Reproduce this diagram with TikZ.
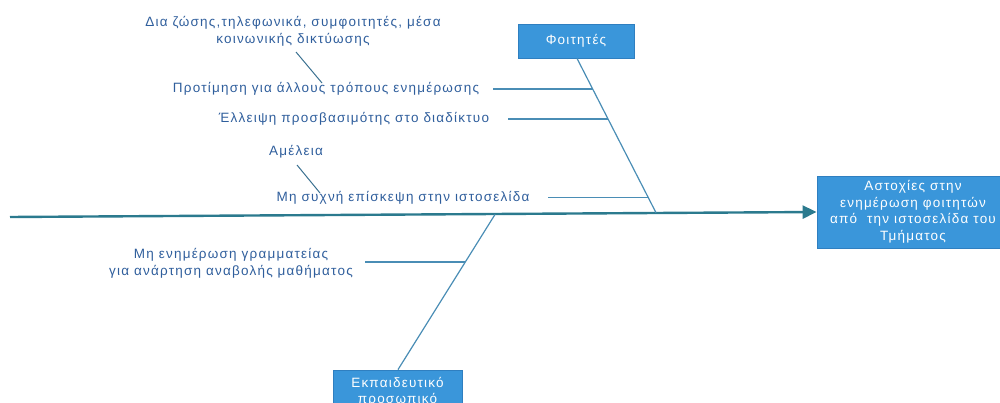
\documentclass[tikz,border=0pt]{standalone}
\usepackage{fontspec}
\setmainfont{Liberation Sans}
\newfontfamily\spacedsans[LetterSpace=9]{Liberation Sans}
\usetikzlibrary{arrows.meta}
\definecolor{boxblue}{HTML}{3A96DA}
\definecolor{boxedge}{HTML}{2F7FC0}
\definecolor{txtblue}{HTML}{2F5E9C}
\definecolor{bone}{HTML}{4A8DB5}
\definecolor{spine}{HTML}{2B7A8E}
\tikzset{
  lbl/.style={text=txtblue, font=\spacedsans\fontsize{13.5}{17}\selectfont, inner sep=0pt, align=center},
  catbox/.style={draw=boxedge, line width=0.8pt, fill=boxblue, text=white, font=\spacedsans\fontsize{13.5}{16.5}\selectfont, align=center, inner sep=0pt},
  bonel/.style={draw=bone, line width=1.2pt},
  subl/.style={draw=bone!80!black, line width=1pt},
  spinel/.style={draw=spine, line width=2.4pt, -{Triangle[length=14pt,width=13pt]}}
}
\begin{document}
\begin{tikzpicture}[x=1pt,y=-1pt]
\useasboundingbox (0,0) rectangle (1000,403);
% boxes
\node[catbox, minimum width=192pt, minimum height=72pt] (effect) at (913,212) {Αστοχίες στην\\ενημέρωση φοιτητών\\από \ την ιστοσελίδα του\\Τμήματος};
\node[catbox, minimum width=116pt, minimum height=34pt] (stud) at (576,41) {Φοιτητές};
\node[catbox, minimum width=129pt, minimum height=44pt] (staff) at (397.5,392) {Εκπαιδευτικό\\προσωπικό};
% spine
\coordinate (tail) at (10,217);
\draw[spinel] (tail) -- (effect.west);
% bone junctions
\coordinate (jtop) at (656,212.7);
\coordinate (jbot) at (495,214.5);
\draw[bonel] (stud.south) ++(1,0) coordinate (studb) -- (jtop);
\draw[bonel] (staff.north) ++(0.5,0) coordinate (staffb) -- (jbot);
% labels
\node[lbl] (l1) at (293,31) {Δια ζώσης,τηλεφωνικά, συμφοιτητές, μέσα\\κοινωνικής δικτύωσης};
\node[lbl] (l2) at (326,89) {Προτίμηση για άλλους τρόπους ενημέρωσης};
\node[lbl] (l3) at (354,119) {Έλλειψη προσβασιμότης στο διαδίκτυο};
\node[lbl] (l4) at (296,152) {Αμέλεια};
\node[lbl] (l5) at (403,198) {Μη συχνή επίσκεψη στην ιστοσελίδα};
\node[lbl] (l6) at (231,263) {Μη ενημέρωση γραμματείας\\για ανάρτηση αναβολής μαθήματος};
% branch lines
\coordinate (b2s) at (493,89);
\coordinate (b2e) at (592.7,89);
\draw[bonel] (b2s) -- (b2e);
\coordinate (b3s) at (508,119);
\coordinate (b3e) at (608,119);
\draw[bonel] (b3s) -- (b3e);
\coordinate (b5s) at (548,197.5);
\coordinate (b5e) at (648,197.5);
\draw[bonel] (b5s) -- (b5e);
\coordinate (b6s) at (365,262);
\coordinate (b6e) at (465,262);
\draw[bonel] (b6s) -- (b6e);
% sub-branches
\coordinate (s1s) at (296,52);
\coordinate (s1e) at (322,83);
\draw[subl] (s1s) -- (s1e);
\coordinate (s4s) at (297,165);
\coordinate (s4e) at (320,193);
\draw[subl] (s4s) -- (s4e);
\end{tikzpicture}
\end{document}
